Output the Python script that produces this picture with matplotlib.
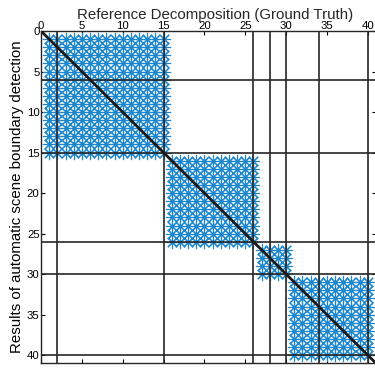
import numpy as np
import matplotlib
matplotlib.use("Agg")
import matplotlib.pyplot as plt

# Data
block_starts = [1, 16, 27, 31]
block_ends = [15, 26, 30, 40]
ground_truth_bounds = [2, 15, 26, 28, 30, 34, 40]   # vertical lines
detected_bounds = [6, 15, 26, 30, 40]               # horizontal lines
ticks = [0, 5, 10, 15, 20, 25, 30, 35, 40]
n_max = 41

plt.rcParams['font.family'] = ['Liberation Sans', 'DejaVu Sans']

fig = plt.figure(figsize=(3.75, 3.71), dpi=100)
ax = fig.add_axes([41/375, 1 - 363.3/371, (376 - 41)/375, (363.3 - 31)/371])

blue = '#1a86cf'
for s, e in zip(block_starts, block_ends):
    idx = np.arange(s, e + 1)
    X, Y = np.meshgrid(idx, idx)
    ax.plot(X.ravel(), Y.ravel(), linestyle='none', marker=(8, 2, 0),
            markersize=9.5, markeredgewidth=0.8, color=blue, zorder=2)

for v in ground_truth_bounds:
    ax.axvline(v, color='#262626', lw=1.2, zorder=3)
for h in detected_bounds:
    ax.axhline(h, color='#262626', lw=1.2, zorder=3)

ax.plot([0, n_max], [0, n_max], color='#1a1a1a', lw=2.0, zorder=4)

ax.set_xlim(0, n_max)
ax.set_ylim(n_max, 0)
ax.set_xticks(ticks)
ax.set_yticks(ticks)
ax.xaxis.set_ticks_position('both')
ax.yaxis.set_ticks_position('both')
ax.tick_params(axis='both', direction='in', length=3, width=0.8, labelsize=8.2,
               pad=1.0, top=True, bottom=True, left=True, right=True,
               labeltop=True, labelbottom=False, labelleft=True, labelright=False)
ax.tick_params(axis='x', pad=0.3)
for sp in ax.spines.values():
    sp.set_color('#262626')
    sp.set_linewidth(1.0)

fig.text(215/375, 1 - 18.5/371, 'Reference Decomposition (Ground Truth)',
         fontsize=10.8, ha='center', va='baseline', color='#262626')
ax.set_ylabel('Results of automatic scene boundary detection', fontsize=10.8, labelpad=2)

fig.savefig('out.png', dpi=100)
